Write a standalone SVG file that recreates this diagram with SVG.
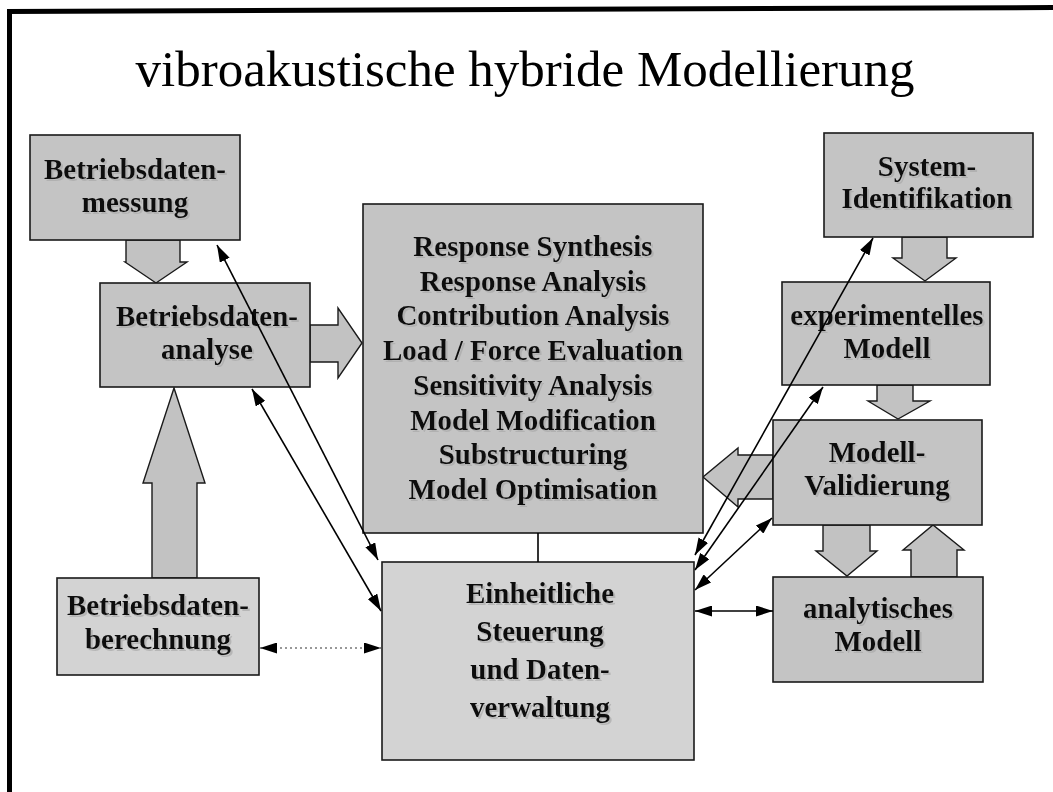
<svg xmlns="http://www.w3.org/2000/svg" width="1053" height="792" viewBox="0 0 1053 792">
<defs>
<style>
.box{fill:#c4c4c4;stroke:#1a1a1a;stroke-width:1.6}
.light{fill:#d3d3d3}
.blk{fill:#c2c2c2;stroke:#1a1a1a;stroke-width:1.4;stroke-linejoin:miter}
.t{font-family:"Liberation Serif","Times New Roman",serif;font-weight:bold;font-size:29px;fill:#111;text-anchor:middle}
.title{font-family:"Liberation Serif","Times New Roman",serif;font-size:51px;fill:#000;text-anchor:middle}
.ln{stroke:#000;stroke-width:1.6;fill:none}
.dot{stroke:#333;stroke-width:1.2;stroke-dasharray:2 3;fill:none}
</style>
<marker id="ah" viewBox="0 0 17 11" markerWidth="17" markerHeight="11" refX="17" refY="5.5" orient="auto-start-reverse" markerUnits="userSpaceOnUse">
<path d="M0,0 L17,5.5 L0,11 z" fill="#000"/>
</marker>
<filter id="sh" x="-5%" y="-10%" width="115%" height="130%">
<feOffset in="SourceAlpha" dx="1.5" dy="1.5" result="o"/>
<feColorMatrix in="o" type="matrix" values="0 0 0 0 0.4 0 0 0 0 0.4 0 0 0 0 0.4 0 0 0 0.7 0" result="s"/>
<feMerge><feMergeNode in="s"/><feMergeNode in="SourceGraphic"/></feMerge>
</filter>
</defs>
<rect x="0" y="0" width="1053" height="792" fill="#fff"/>
<g id="frame">
<line x1="7" y1="11.5" x2="1053" y2="7.5" stroke="#000" stroke-width="5"/>
<line x1="9.5" y1="9" x2="9.5" y2="792" stroke="#000" stroke-width="5"/>
</g>
<text class="title" x="525" y="86">vibroakustische hybride Modellierung</text>

<g id="block-arrows">
<polygon class="blk" points="126,240 180,240 180,262 187,262 156,283 125,262 126,262"/>
<polygon class="blk" points="310,325 338,325 338,308 362,343 338,378 338,362 310,362"/>
<polygon class="blk" points="152,578 152,483 143,483 174,388 205,483 197,483 197,578"/>
<polygon class="blk" points="902,237 947,237 947,258 956,258 925,281 893,258 902,258"/>
<polygon class="blk" points="877,385 913,385 913,401 930,401 898,419 868,401 877,401"/>
<polygon class="blk" points="773,455 738,455 738,448 703,477 738,507 738,499 773,499"/>
<polygon class="blk" points="823,525 870,525 870,551 877,551 847,576 816,551 823,551"/>
<polygon class="blk" points="911,577 911,550 903,550 933,525 964,550 957,550 957,577"/>
</g>

<g id="n-messung">
<rect class="box" x="30" y="135" width="210" height="105"/>
<text class="t" filter="url(#sh)" x="135" y="179">Betriebsdaten-<tspan x="135" dy="33">messung</tspan></text>
</g>
<g id="n-analyse">
<rect class="box" x="100" y="283" width="210" height="104"/>
<text class="t" filter="url(#sh)" x="207" y="326">Betriebsdaten-<tspan x="207" dy="33">analyse</tspan></text>
</g>
<g id="n-berechnung">
<rect class="box light" x="57" y="578" width="202" height="97"/>
<text class="t" filter="url(#sh)" x="158" y="615">Betriebsdaten-<tspan x="158" dy="34">berechnung</tspan></text>
</g>
<g id="n-methods">
<rect class="box" x="363" y="204" width="340" height="329"/>
<text class="t" filter="url(#sh)" x="533" y="256">Response Synthesis<tspan x="533" dy="34.7">Response Analysis</tspan><tspan x="533" dy="34.7">Contribution Analysis</tspan><tspan x="533" dy="34.7">Load / Force Evaluation</tspan><tspan x="533" dy="34.7">Sensitivity Analysis</tspan><tspan x="533" dy="34.7">Model Modification</tspan><tspan x="533" dy="34.7">Substructuring</tspan><tspan x="533" dy="34.7">Model Optimisation</tspan></text>
</g>
<g id="n-steuerung">
<rect class="box light" x="382" y="562" width="312" height="198"/>
<text class="t" filter="url(#sh)" x="540" y="603">Einheitliche<tspan x="540" dy="38">Steuerung</tspan><tspan x="540" dy="38">und Daten-</tspan><tspan x="540" dy="38">verwaltung</tspan></text>
</g>
<g id="n-sysid">
<rect class="box" x="824" y="133" width="209" height="104"/>
<text class="t" filter="url(#sh)" x="927" y="176">System-<tspan x="927" dy="32">Identifikation</tspan></text>
</g>
<g id="n-experimentell">
<rect class="box" x="782" y="282" width="208" height="103"/>
<text class="t" filter="url(#sh)" x="887" y="325">experimentelles<tspan x="887" dy="33">Modell</tspan></text>
</g>
<g id="n-validierung">
<rect class="box" x="773" y="420" width="209" height="105"/>
<text class="t" filter="url(#sh)" x="877" y="462">Modell-<tspan x="877" dy="33">Validierung</tspan></text>
</g>
<g id="n-analytisch">
<rect class="box" x="773" y="577" width="210" height="105"/>
<text class="t" filter="url(#sh)" x="878" y="618">analytisches<tspan x="878" dy="33">Modell</tspan></text>
</g>

<g id="connectors">
<line class="ln" x1="538" y1="533" x2="538" y2="562"/>
<line class="ln" x1="217" y1="245" x2="378" y2="560" marker-start="url(#ah)" marker-end="url(#ah)"/>
<line class="ln" x1="252" y1="389" x2="381" y2="611" marker-start="url(#ah)" marker-end="url(#ah)"/>
<line class="ln" x1="873" y1="238" x2="695" y2="555" marker-start="url(#ah)" marker-end="url(#ah)"/>
<line class="ln" x1="823" y1="387" x2="695" y2="570" marker-start="url(#ah)" marker-end="url(#ah)"/>
<line class="ln" x1="772" y1="518" x2="695" y2="590" marker-start="url(#ah)" marker-end="url(#ah)"/>
<line class="ln" x1="695" y1="611" x2="773" y2="611" marker-start="url(#ah)" marker-end="url(#ah)"/>
<line class="dot" x1="260" y1="648" x2="381" y2="648" marker-start="url(#ah)" marker-end="url(#ah)"/>
</g>
</svg>
